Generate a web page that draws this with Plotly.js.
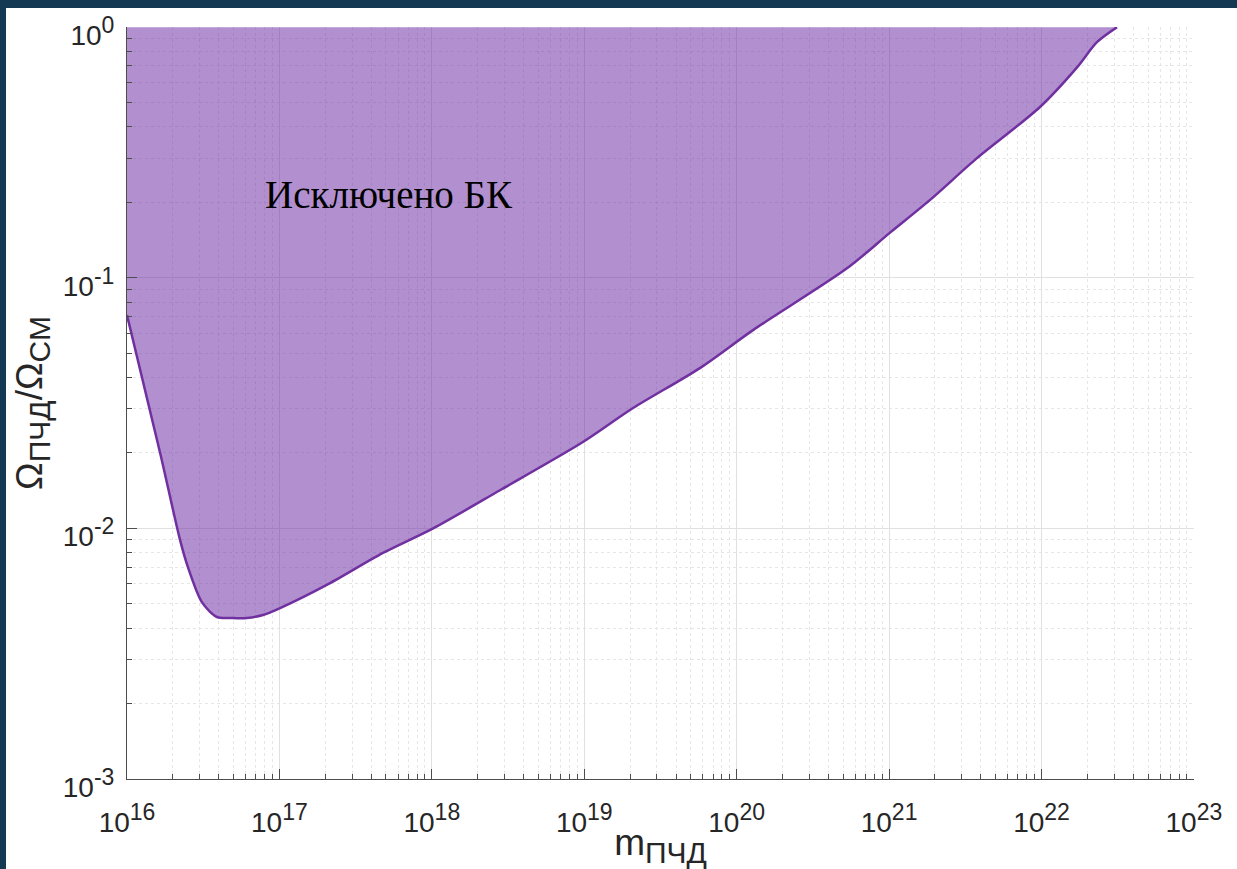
<!DOCTYPE html>
<html>
<head>
<meta charset="utf-8">
<script src="https://cdn.plot.ly/plotly-3.0.1.min.js"></script>
<style>
  html, body { margin: 0; padding: 0; background: #133A52; width: 1237px; height: 869px; overflow: hidden; }
  #chart { position: absolute; left: 6px; top: 8px; width: 1231px; height: 861px; background: #fff; }
</style>
</head>
<body>
<div id="chart"></div>
<script>
// PBH mass (g) and excluded fraction Ω_PBH/Ω_DM boundary
const massPBH = [1.0e16, 1.65e16, 2.23e16, 2.51e16, 3.1e16, 3.89e16, 4.88e16, 6.12e16, 7.8e16,
  1.01e17, 2.15e17, 4.78e17, 1.02e18, 2.8e18, 9.8e18, 2.09e19, 5.74e19, 1.28e20,
  5.29e20, 1.01e21, 1.85e21, 3.77e21, 9.77e21, 1.71e22, 2.31e22, 3.13e22];
const omegaRatio = [0.071, 0.0200, 0.00898, 0.00701, 0.00508, 0.00443, 0.00439, 0.00439, 0.00451,
  0.00481, 0.00605, 0.00798, 0.0100, 0.0142, 0.0221, 0.0302, 0.0436, 0.0618,
  0.109, 0.151, 0.204, 0.300, 0.480, 0.691, 0.871, 1.0];

const xTickVals = [1e16, 1e17, 1e18, 1e19, 1e20, 1e21, 1e22, 1e23];
const xTickExp = ['16', '17', '18', '19', '20', '21', '22', '23'];
const yTickVals = [1e-3, 1e-2, 1e-1, 1];
const yTickExp = ['-3', '-2', '-1', '0'];
const yTop = 1;

const annotationText = 'Исключено БК';
const subStyle = 'font-size:30px';
const xTitle = 'm<sub><span style="' + subStyle + '">ПЧД</span></sub>';
const yTitle = 'Ω<sub><span style="' + subStyle + '">ПЧД</span></sub>/Ω<sub><span style="' + subStyle + '">СМ</span></sub>';

function powerLabel(e) {
  return '10<sup><span style="font-size:23px">' + e + '</span></sup>';
}
function minorVals(majors) {
  const out = [];
  for (let i = 0; i < majors.length - 1; i++) {
    for (let k = 2; k <= 9; k++) out.push(majors[i] * k);
  }
  return out;
}

const traces = [
  {
    // upper boundary of the excluded region (top of the plot)
    x: [massPBH[0], massPBH[massPBH.length - 1]], y: [yTop, yTop],
    type: 'scatter', mode: 'lines', line: { width: 0, color: 'rgba(0,0,0,0)' },
    hoverinfo: 'skip', showlegend: false
  },
  {
    x: massPBH, y: omegaRatio, type: 'scatter', mode: 'lines',
    line: { color: '#7030A0', width: 2.5, shape: 'spline', smoothing: 0.8 },
    fill: 'tonexty', fillcolor: 'rgba(101,33,161,0.5)', showlegend: false
  }
];

const tickFont = { family: 'Liberation Sans, Arial, sans-serif', size: 28, color: '#262626' };
const titleFont = { family: 'Liberation Sans, Arial, sans-serif', size: 37, color: '#262626' };

const axisCommon = {
  type: 'log',
  showline: true, linecolor: '#4d4d4d', linewidth: 1,
  mirror: false,
  ticks: 'inside', ticklen: 10, tickwidth: 1, tickcolor: '#4d4d4d',
  showgrid: true, gridcolor: '#e0e0e0', gridwidth: 1,
  zeroline: false,
  tickfont: tickFont,
  tickmode: 'array',
  ticklabeloverflow: 'allow'
};

const layout = {
  width: 1231, height: 861,
  paper_bgcolor: '#ffffff', plot_bgcolor: '#ffffff',
  margin: { l: 121, r: 43, t: 19, b: 90 },
  font: tickFont,
  xaxis: Object.assign({}, axisCommon, {
    range: [16, 23.0005],
    tickvals: xTickVals, ticktext: xTickExp.map(powerLabel),
    ticklabelstandoff: 18,
    minor: { tickvals: minorVals(xTickVals), ticks: 'inside', ticklen: 5, tickcolor: '#4d4d4d',
             showgrid: true, gridcolor: '#e6e6e6', griddash: 'dot', gridwidth: 1 },
    title: { text: xTitle, font: titleFont, standoff: 0 }
  }),
  yaxis: Object.assign({}, axisCommon, {
    range: [-3, 0.0005],
    tickvals: yTickVals, ticktext: yTickExp.map(powerLabel),
    ticklabelstandoff: 6, ticklabelshift: 8,
    minor: { tickvals: minorVals(yTickVals), ticks: 'inside', ticklen: 5, tickcolor: '#4d4d4d',
             showgrid: true, gridcolor: '#e6e6e6', griddash: 'dot', gridwidth: 1 },
    title: { text: yTitle, font: titleFont, standoff: 8 }
  }),
  annotations: [{
    text: annotationText, xref: 'paper', yref: 'paper',
    x: 0.1275, y: 0.7766, xanchor: 'left', yanchor: 'middle', showarrow: false,
    font: { family: 'Liberation Serif, Times New Roman, serif', size: 39, color: '#000000' }
  }]
};

Plotly.newPlot('chart', traces, layout, { displayModeBar: false, staticPlot: true });
</script>
</body>
</html>
